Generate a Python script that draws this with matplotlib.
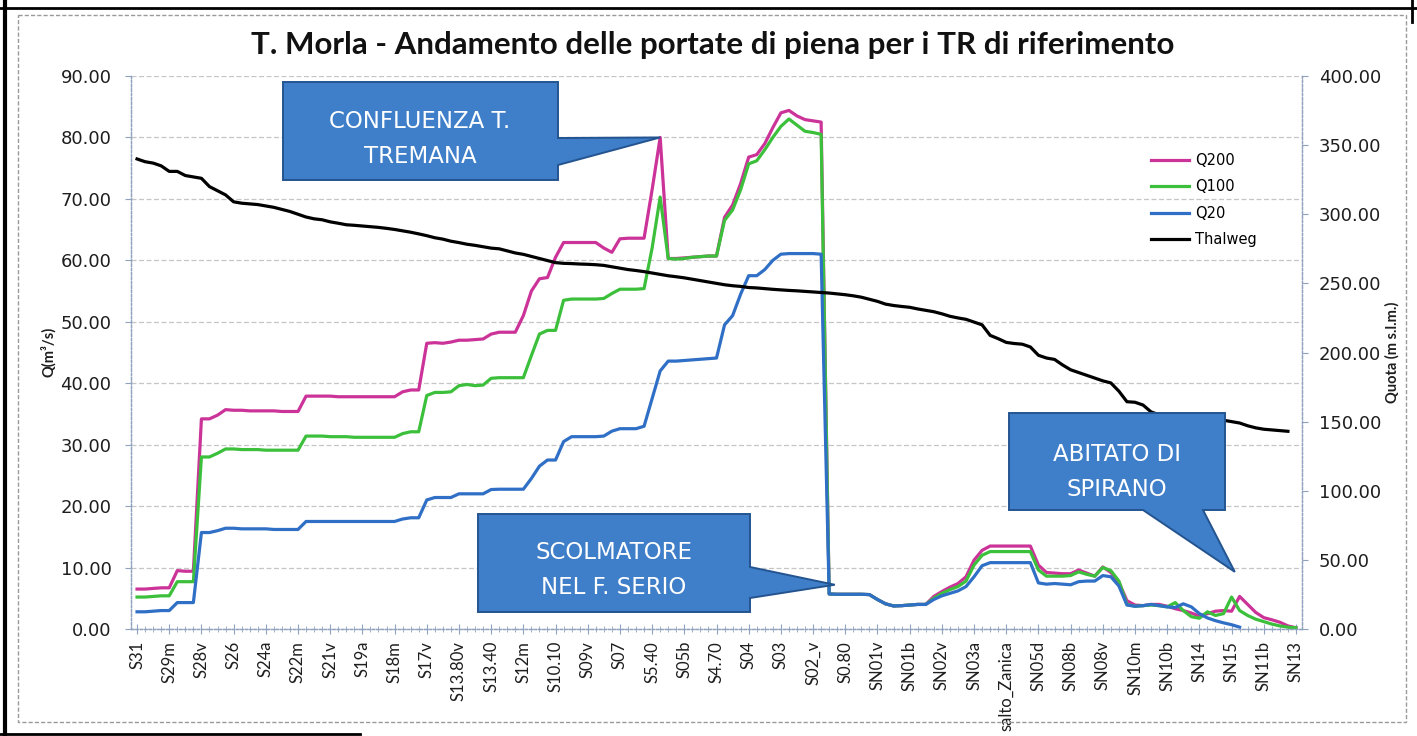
import numpy as np
import matplotlib
matplotlib.use("Agg")
import matplotlib.pyplot as plt
from matplotlib.patches import Polygon, Rectangle
from matplotlib.lines import Line2D
from matplotlib.ticker import FormatStrFormatter, FixedLocator, MultipleLocator

W, H = 1417, 736

# one label every 4 sections
sections = ["S31", "S29m", "S28v", "S26", "S24a", "S22m", "S21v", "S19a", "S18m",
            "S17v", "S13.80v", "S13.40", "S12m", "S10.10", "S09v", "S07", "S5.40",
            "S05b", "S4.70", "S04", "S03", "S02_v", "S0.80", "SN01v", "SN01b",
            "SN02v", "SN03a", "salto_Zanica", "SN05d", "SN08b", "SN08v", "SN10m",
            "SN10b", "SN14", "SN15", "SN11b", "SN13"]
label_step = 4

q200 = [6.5, 6.5, 6.6, 6.7, 6.7, 9.5, 9.4, 9.4, 34.2, 34.2,
        34.8, 35.7, 35.6, 35.6, 35.5, 35.5, 35.5, 35.5, 35.4, 35.4,
        35.4, 37.9, 37.9, 37.9, 37.9, 37.8, 37.8, 37.8, 37.8, 37.8,
        37.8, 37.8, 37.8, 38.6, 38.9, 38.9, 46.5, 46.6, 46.5, 46.7,
        47.0, 47.0, 47.1, 47.2, 48.0, 48.3, 48.3, 48.3, 51.0, 55.0,
        57.0, 57.2, 60.5, 62.9, 62.9, 62.9, 62.9, 62.9, 62.0, 61.3,
        63.5, 63.6, 63.6, 63.6, 71.5, 80.0, 60.3, 60.3, 60.4, 60.5,
        60.6, 60.7, 60.7, 67.0, 69.0, 72.5, 76.8, 77.2, 79.0, 81.6,
        84.0, 84.4, 83.5, 82.9, 82.7, 82.5, 5.7, 5.65, 5.65, 5.65,
        5.65, 5.6, 4.8, 4.1, 3.75, 3.8, 3.9, 4.0, 4.0, 5.3,
        6.1, 6.8, 7.4, 8.5, 11.2, 12.8, 13.5, 13.5, 13.5, 13.5,
        13.5, 13.5, 10.4, 9.2, 9.1, 9.0, 9.0, 9.6, 9.1, 8.6,
        10.1, 9.2, 7.6, 4.6, 3.9, 3.8, 4.0, 4.0, 3.7, 3.3,
        3.0, 2.6, 2.1, 2.5, 2.9, 3.0, 2.9, 5.3, 4.0, 2.7,
        1.85, 1.5, 1.1, 0.5, 0.2]

q100 = [5.2, 5.2, 5.3, 5.4, 5.4, 7.7, 7.7, 7.7, 28.0, 28.0,
        28.6, 29.3, 29.3, 29.2, 29.2, 29.2, 29.1, 29.1, 29.1, 29.1,
        29.1, 31.4, 31.4, 31.4, 31.3, 31.3, 31.3, 31.2, 31.2, 31.2,
        31.2, 31.2, 31.2, 31.8, 32.1, 32.1, 38.0, 38.5, 38.5, 38.6,
        39.6, 39.8, 39.6, 39.7, 40.8, 40.9, 40.9, 40.9, 40.9, 44.5,
        48.0, 48.6, 48.6, 53.5, 53.7, 53.7, 53.7, 53.7, 53.8, 54.6,
        55.3, 55.3, 55.3, 55.4, 62.0, 70.3, 60.3, 60.2, 60.3, 60.5,
        60.6, 60.7, 60.7, 66.5, 68.2, 71.5, 75.7, 76.2, 78.0, 80.0,
        81.8, 83.0, 82.0, 81.0, 80.8, 80.5, 5.7, 5.65, 5.65, 5.65,
        5.65, 5.6, 4.8, 4.1, 3.75, 3.8, 3.9, 4.0, 4.0, 5.0,
        5.8, 6.4, 6.9, 7.8, 10.4, 12.0, 12.6, 12.6, 12.6, 12.6,
        12.6, 12.6, 9.6, 8.6, 8.6, 8.6, 8.7, 9.3, 8.9, 8.6,
        10.0, 9.5, 7.8, 4.0, 3.7, 3.8, 3.9, 3.8, 3.6, 4.3,
        3.0, 2.0, 1.75, 2.8, 2.2, 2.5, 5.2, 3.0, 2.2, 1.6,
        1.2, 0.8, 0.5, 0.3, 0.2]

q20 = [2.8, 2.8, 2.9, 3.0, 3.0, 4.3, 4.3, 4.3, 15.7, 15.7,
       16.0, 16.4, 16.4, 16.3, 16.3, 16.3, 16.3, 16.2, 16.2, 16.2,
       16.2, 17.5, 17.5, 17.5, 17.5, 17.5, 17.5, 17.5, 17.5, 17.5,
       17.5, 17.5, 17.5, 17.9, 18.1, 18.1, 21.0, 21.4, 21.4, 21.4,
       22.0, 22.0, 22.0, 22.0, 22.7, 22.75, 22.75, 22.75, 22.75, 24.5,
       26.5, 27.5, 27.5, 30.5, 31.3, 31.3, 31.3, 31.3, 31.4, 32.2,
       32.6, 32.6, 32.6, 33.0, 37.5, 42.0, 43.6, 43.6, 43.7, 43.8,
       43.9, 44.0, 44.1, 49.5, 51.0, 54.5, 57.5, 57.5, 58.5, 60.0,
       61.0, 61.1, 61.1, 61.1, 61.1, 61.0, 5.7, 5.65, 5.65, 5.65,
       5.65, 5.6, 4.8, 4.1, 3.75, 3.8, 3.9, 4.0, 4.0, 4.8,
       5.4, 5.8, 6.2, 6.9, 8.5, 10.3, 10.8, 10.8, 10.8, 10.8,
       10.8, 10.8, 7.5, 7.3, 7.4, 7.3, 7.2, 7.7, 7.8, 7.8,
       8.7, 8.5, 7.0, 3.9, 3.7, 3.8, 4.0, 3.8, 3.6, 3.5,
       4.1, 3.6, 2.5, 1.8, 1.35, 1.0, 0.7, 0.3, np.nan, np.nan,
       np.nan, np.nan, np.nan, np.nan, np.nan]

thalweg = [340, 338, 337, 335, 331, 331, 328, 327, 326, 320,
           317, 314, 309, 308, 307.5, 307, 306, 305, 303.5, 302,
           300, 298, 296.7, 296, 294.5, 293.5, 292.4, 292, 291.5, 291,
           290.5, 289.8, 289, 288, 287, 285.8, 284.5, 283, 282, 280.5,
           279.5, 278.3, 277.5, 276.5, 275.5, 275, 273.5, 272, 271, 269.5,
           268, 266.5, 265, 264.5, 264.3, 264, 263.8, 263.5, 263, 262,
           261, 260, 259.3, 258.5, 257.5, 256.5, 255.5, 254.8, 254, 253,
           252, 251, 250, 249, 248.3, 247.8, 247, 246.7, 246.2, 245.7,
           245.3, 244.9, 244.6, 244.2, 243.8, 243.4, 243, 242.4, 241.8, 241,
           240, 238.5, 237, 235, 234, 233.3, 232.7, 231.5, 230.5, 229.5,
           228, 226.2, 225, 224, 222, 220, 212.4, 210, 207.3, 206.5,
           206, 204, 198, 196, 195, 191, 187.5, 185.5, 183.5, 181.5,
           179.5, 178, 172, 164.4, 164, 162, 157, 155, 153.5, 153,
           152.5, 152.2, 152, 151.8, 151.5, 151, 150, 149, 147, 145.5,
           144.5, 144, 143.5, 143, np.nan]

series = [("Q200", q200, "#cc3399"),
          ("Q100", q100, "#3cc03c"),
          ("Q20", q20, "#2f6fc6")]

plt.rcParams["font.family"] = ["DejaVu Sans"]
axis_col = "#8fa3bf"
txt_col = "#1e1e1e"
lato = ["Lato", "DejaVu Sans"]

fig = plt.figure(figsize=(W / 100, H / 100), dpi=100)
fig.patch.set_facecolor("white")

# plot area in pixel units
left, right, top, bottom = 131, 1302, 76, 629
ax = fig.add_axes([left / W, 1 - bottom / H, (right - left) / W, (bottom - top) / H])
ax2 = ax.twinx()

x = np.arange(len(q200))
handles = []
for name, vals, col in series:
    h, = ax.plot(x, vals, color=col, lw=2.3, solid_joinstyle="round", label=name)
    handles.append(h)
h, = ax2.plot(x, thalweg, color="black", lw=2.3, label="Thalweg")
handles.append(h)

ax.set_xlim(-0.75, len(q200) - 1 + 0.75)
ax.set_ylim(0, 90)
ax2.set_ylim(0, 400)
ax.yaxis.set_major_locator(MultipleLocator(10))
ax2.yaxis.set_major_locator(MultipleLocator(50))
ax.yaxis.set_major_formatter(FormatStrFormatter("%.2f"))
ax2.yaxis.set_major_formatter(FormatStrFormatter("%.2f"))

ax.xaxis.set_major_locator(FixedLocator(np.arange(0, len(q200), label_step)))
ax.xaxis.set_minor_locator(FixedLocator(x))
ax.set_xticklabels(sections, rotation=90, ha="center", va="top", family=lato)

ax.yaxis.grid(True, color="#c6c6c6", ls=(0, (4, 2)), lw=0.9)
ax.set_axisbelow(True)

for a in (ax, ax2):
    a.spines["top"].set_visible(False)
    for s in ("left", "right", "bottom"):
        a.spines[s].set_color(axis_col)
        a.spines[s].set_linestyle((0, (2, 1.5)))
        a.spines[s].set_linewidth(0.9)

ax.tick_params(axis="y", length=4, color=axis_col, labelsize=13, pad=10, labelcolor=txt_col)
ax2.tick_params(axis="y", length=4, color=axis_col, labelsize=13, pad=8, labelcolor=txt_col)
ax.tick_params(axis="x", which="major", direction="inout", length=7, color=axis_col,
               labelsize=12, pad=5, labelcolor=txt_col)
ax.tick_params(axis="x", which="minor", direction="inout", length=4, color=axis_col)

fig.text(713 / W, 1 - 45 / H,
         "T. Morla - Andamento delle portate di piena per i TR di riferimento",
         ha="center", va="center", fontsize=22.5, weight="bold",
         family=lato, color="#111111")
fig.text(48 / W, 1 - 352 / H, "Q(m³/s)", rotation=90, ha="center", va="center",
         fontsize=10.5, weight="bold", family=lato, color=txt_col)
fig.text(1392 / W, 1 - 352 / H, "Quota (m s.l.m.)", rotation=90, ha="center",
         va="center", fontsize=10.5, weight="bold", family=lato, color=txt_col)

ax2.legend(handles, [hh.get_label() for hh in handles], loc="upper left",
           bbox_to_anchor=(1151 / W, 1 - 153 / H), bbox_transform=fig.transFigure,
           frameon=False, fontsize=10.5, handlelength=2.6, handletextpad=0.45,
           labelspacing=0.78, borderpad=0, borderaxespad=0)

# overlay in pixel coordinates (y downwards) for the page frame and callouts
ov = fig.add_axes([0, 0, 1, 1])
ov.set_zorder(10)
ov.set_xlim(0, W)
ov.set_ylim(H, 0)
ov.axis("off")
ov.patch.set_alpha(0)

ov.add_patch(Rectangle((18, 15), 1388, 707, fill=False, ec="#9a9a9a", lw=1.0,
                       ls=(0, (3, 1.5))))
ov.add_line(Line2D([5, 5], [0, H], color="black", lw=3))
ov.add_line(Line2D([0, W], [8, 8], color="black", lw=2))
ov.add_line(Line2D([1412, 1412], [0, 22], color="black", lw=2))
ov.add_line(Line2D([0, 360], [734, 734], color="black", lw=2))


def to_px(xy):
    """data point of the main axes -> overlay pixel coordinates"""
    return ov.transData.inverted().transform(ax.transData.transform(xy))


def callout(box, tip, text, text_xy, side="right", base=(0, 0)):
    x0, y0, x1, y1 = box
    tx, ty = to_px(tip)
    if side == "right":
        pts = [(x0, y0), (x1, y0), (x1, base[0]), (tx, ty), (x1, base[1]),
               (x1, y1), (x0, y1)]
    else:
        pts = [(x0, y0), (x1, y0), (x1, y1), (base[1], y1), (tx, ty),
               (base[0], y1), (x0, y1)]
    ov.add_patch(Polygon(pts, closed=True, fc="#3f7ec8", ec="#24548f", lw=1.4,
                         joinstyle="miter"))
    ov.text(text_xy[0], text_xy[1], text, ha="center", va="center", color="white",
            fontsize=16.5, linespacing=1.65)


callout((283, 82, 558, 180), (65, q200[65]), "CONFLUENZA T.\nTREMANA", (420, 139),
        side="right", base=(138, 165))
callout((478, 514, 750, 612), (86.7, 7.2), "SCOLMATORE\nNEL F. SERIO", (614, 570),
        side="right", base=(567, 598))
callout((1009, 413, 1225, 510), (136.4, 9.3), "ABITATO DI\nSPIRANO", (1117, 472),
        side="bottom", base=(1143, 1203))

fig.savefig("out.png", dpi=100)
